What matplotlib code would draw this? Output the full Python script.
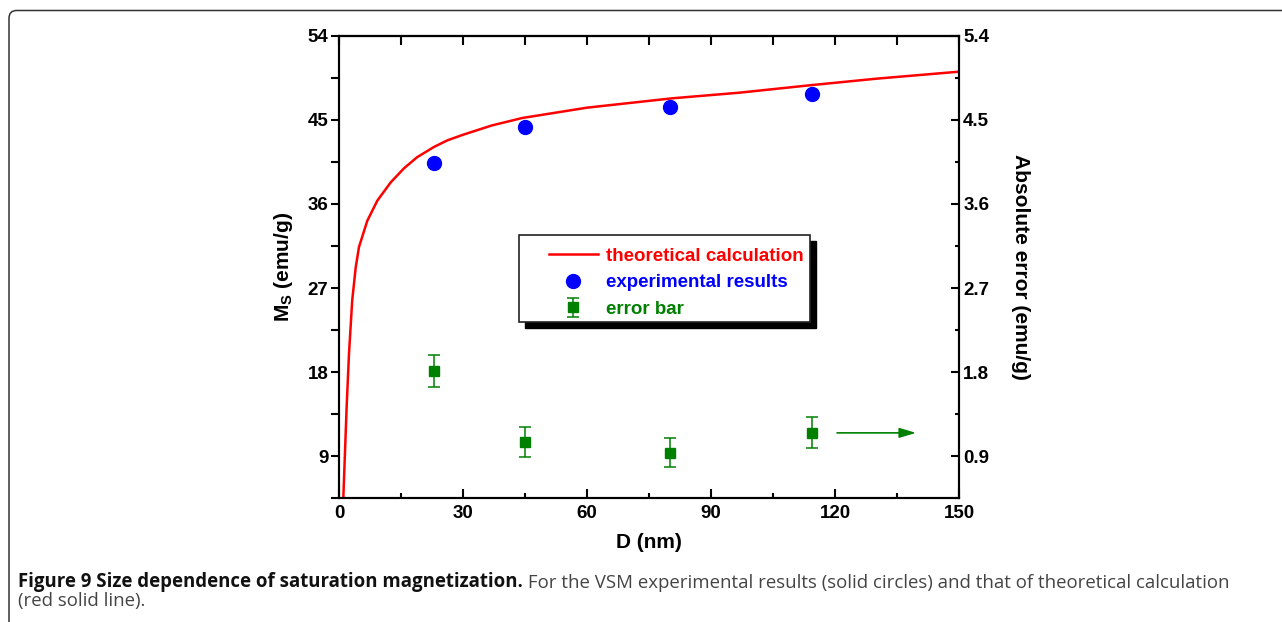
import matplotlib
matplotlib.use("Agg")
from matplotlib import pyplot as plt
from matplotlib.patches import Rectangle, FancyBboxPatch
from matplotlib.ticker import MultipleLocator, FormatStrFormatter

plt.rcParams['font.family'] = ['Liberation Sans', 'DejaVu Sans']
plt.rcParams['font.weight'] = 'bold'
plt.rcParams['axes.labelweight'] = 'bold'
plt.rcParams['mathtext.fontset'] = 'custom'
plt.rcParams['mathtext.rm'] = 'Liberation Sans:bold'
plt.rcParams['mathtext.bf'] = 'Liberation Sans:bold'
plt.rcParams['mathtext.it'] = 'Liberation Sans:bold'

# theoretical curve
theory_d = [1.0, 1.85, 2.42, 3.2, 4.04, 4.84, 6.85, 9.27, 12.5, 15.7, 18.9, 23.0, 26.2,
            30.0, 37.0, 44.4, 60.0, 80.6, 96.8, 114.0, 130.0, 150.0]
theory_ms = [4.0, 14.3, 20.0, 25.7, 29.2, 31.4, 34.2, 36.35, 38.3, 39.8, 41.0, 42.1, 42.8,
             43.4, 44.4, 45.2, 46.3, 47.3, 47.9, 48.7, 49.4, 50.15]

# VSM experimental results
exp_d = [23.0, 45.0, 80.2, 114.4]
exp_ms = [40.4, 44.2, 46.35, 47.75]

# absolute error (right axis)
err_val = [1.81, 1.05, 0.94, 1.15]
err_bar = [0.17, 0.16, 0.16, 0.165]

fig = plt.figure(figsize=(12.82, 6.22), dpi=100)
ax = fig.add_axes([339/1282, 1-498.3/622, 620/1282, 462.6/622])
ax2 = ax.twinx()

l1, = ax.plot(theory_d, theory_ms, color="red", lw=1.8, label="theoretical calculation", zorder=3)
l2, = ax.plot(exp_d, exp_ms, linestyle="none", marker="o", markersize=10, color="blue",
              label="experimental results", zorder=4)
eb = ax2.errorbar(exp_d, err_val, yerr=err_bar, fmt="s", markersize=6.5, color="green",
                  ecolor="green", elinewidth=1.1, capsize=4, capthick=1.1, label="error bar")
ax2.annotate("", xy=(139.6, 1.15), xytext=(120.5, 1.15),
             arrowprops=dict(arrowstyle="-|>,head_length=0.5,head_width=0.15", color="green",
                             lw=1.2, mutation_scale=20, shrinkA=0, shrinkB=0))

ax.set_xlim(0, 150)
ax.set_ylim(4.5, 54)
ax2.set_ylim(0.45, 5.4)

ax.xaxis.set_major_locator(MultipleLocator(30))
ax.xaxis.set_minor_locator(MultipleLocator(15))
ax.yaxis.set_major_locator(MultipleLocator(9))
ax.yaxis.set_minor_locator(MultipleLocator(4.5))
ax2.yaxis.set_major_locator(MultipleLocator(0.9))
ax2.yaxis.set_minor_locator(MultipleLocator(0.45))
ax2.yaxis.set_major_formatter(FormatStrFormatter("%.1f"))

ax.tick_params(axis="x", which="major", direction="in", length=6.5, width=1.5, labelsize=13.5, pad=5)
ax.tick_params(axis="x", which="minor", direction="in", length=3.5, width=1.5)
ax.tick_params(axis="y", which="both", direction="out", length=5.5, width=1.5, labelsize=13.5, pad=2)
ax2.tick_params(axis="y", which="major", direction="in", length=5.5, width=1.5, labelsize=13.5, pad=3)
ax2.tick_params(axis="y", which="minor", direction="in", length=3, width=1.5)

top = ax.secondary_xaxis("top")
top.xaxis.set_major_locator(MultipleLocator(15))
top.tick_params(direction="in", length=6.5, width=1.5, labelsize=0)
top.set_xticklabels([])

for a in (ax, ax2):
    for s in a.spines.values():
        s.set_linewidth(1.5)
top.spines["top"].set_linewidth(1.5)

ax.set_xlabel("D (nm)", fontsize=15, labelpad=8)
ax.set_ylabel(r"$\mathbf{M_S}$ (emu/g)", fontsize=15, labelpad=9)
ax2.set_ylabel("Absolute error (emu/g)", fontsize=15, rotation=270, labelpad=29)

# legend with Origin-like frame and solid shadow
ax.add_patch(Rectangle((0.2999, 0.3681), 0.4695, 0.1881, transform=ax.transAxes,
                       facecolor="black", edgecolor="black", zorder=5, clip_on=False))
ax.add_patch(Rectangle((0.2903, 0.3811), 0.4694, 0.1881, transform=ax.transAxes,
                       facecolor="white", edgecolor="#222222", lw=1.2, zorder=6, clip_on=False))
leg = ax.legend([l1, l2, eb], ["theoretical calculation", "experimental results", "error bar"],
                loc="upper left", bbox_to_anchor=(0.3387, 0.5415), borderaxespad=0, borderpad=0,
                frameon=False, fontsize=13.5, handlelength=2.6, handletextpad=0.45, labelspacing=0.5)
leg.set_zorder(7)
for t, c in zip(leg.get_texts(), ["red", "blue", "green"]):
    t.set_color(c)

# page frame and caption
fig.add_artist(FancyBboxPatch((9/1282, -0.05), 1.05, 1.05 - 10.5/622,
                              boxstyle="round,pad=0,rounding_size=0.006", mutation_aspect=1282/622,
                              transform=fig.transFigure, facecolor="none", edgecolor="#333333", lw=1.1))
t1 = fig.text(18/1282, 1-587/622, "Figure 9 Size dependence of saturation magnetization.",
              family="Open Sans", fontweight="bold", fontsize=13.4, color="#111111", va="baseline")
ax.annotate(" For the VSM experimental results (solid circles) and that of theoretical calculation",
            xy=(1, 0), xycoords=t1, va="bottom", ha="left", family="Open Sans", fontweight="normal",
            fontsize=13.4, color="#444444", annotation_clip=False)
fig.text(18/1282, 1-606/622, "(red solid line).", family="Open Sans", fontweight="normal",
         fontsize=13.4, color="#444444", va="baseline")

plt.savefig("out.png", dpi=100)
